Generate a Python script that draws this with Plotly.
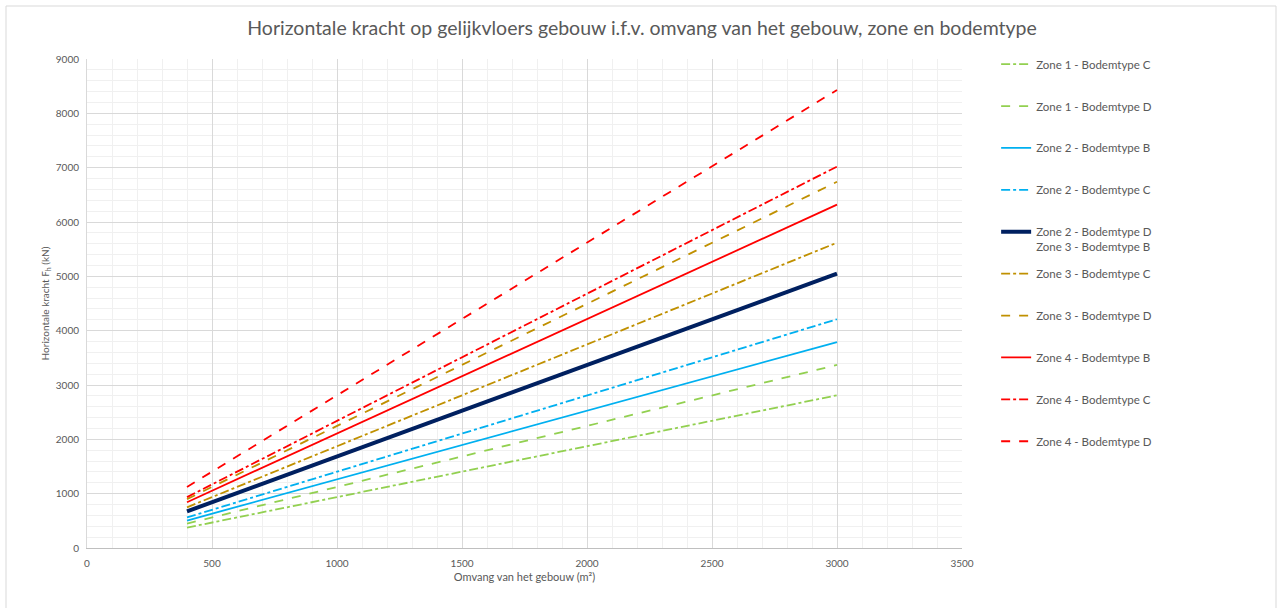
import plotly.graph_objects as go

# Building footprint (m²) at the start and end of each line
omvang = [400, 3000]

# Horizontal force Fh (kN) per zone / soil type
zone1_c = [375, 2810]
zone1_d = [450, 3370]
zone2_b = [506, 3790]
zone2_c = [562, 4210]
zone2_d = [674, 5050]
zone3_b = [674, 5050]
zone3_c = [749, 5620]
zone3_d = [899, 6740]
zone4_b = [843, 6320]
zone4_c = [936, 7020]
zone4_d = [1124, 8430]

GREEN = "#92d050"
CYAN = "#00b0f0"
NAVY = "#002060"
GOLD = "#c09000"
RED = "#ff0000"

# (legend text, values, colour, dash, width, shown in legend)
# Zone 3 B coincides with Zone 2 D: it shares that legend entry and has no visible line
series = [
    ("Zone 1 - Bodemtype C<br> ", zone1_c, GREEN, "dashdot", 1.8, True),
    ("Zone 1 - Bodemtype D<br> ", zone1_d, GREEN, "dash", 1.8, True),
    ("Zone 2 - Bodemtype B<br> ", zone2_b, CYAN, "solid", 1.8, True),
    ("Zone 2 - Bodemtype C<br> ", zone2_c, CYAN, "dashdot", 1.8, True),
    ("Zone 2 - Bodemtype D<br>Zone 3 - Bodemtype B", zone2_d, NAVY, "solid", 4, True),
    ("Zone 3 - Bodemtype B", zone3_b, "rgba(0,0,0,0)", "solid", 1.8, False),
    ("Zone 3 - Bodemtype C<br> ", zone3_c, GOLD, "dashdot", 1.8, True),
    ("Zone 3 - Bodemtype D<br> ", zone3_d, GOLD, "dash", 1.8, True),
    ("Zone 4 - Bodemtype B<br> ", zone4_b, RED, "solid", 1.8, True),
    ("Zone 4 - Bodemtype C<br> ", zone4_c, RED, "dashdot", 1.8, True),
    ("Zone 4 - Bodemtype D<br> ", zone4_d, RED, "dash", 1.8, True),
]

FONT = "Lato, 'Open Sans', sans-serif"
TXT = "#595959"

fig = go.Figure()
for i, (name, vals, color, dash, width, show) in enumerate(series):
    fig.add_trace(go.Scatter(
        x=omvang, y=vals, mode="lines", name=name,
        line=dict(color=color, dash=dash, width=width),
        legendgroup=f"g{i}", showlegend=show,
    ))

fig.update_layout(
    width=1279, height=608,
    margin=dict(l=87, r=317, t=59, b=60),
    paper_bgcolor="white", plot_bgcolor="white",
    font=dict(family=FONT, color=TXT, size=10),
    title=dict(
        text="Horizontale kracht op gelijkvloers gebouw i.f.v. omvang van het gebouw, zone en bodemtype",
        x=0.502, xref="container", xanchor="center", y=0.953, yanchor="middle",
        font=dict(size=19.5, color=TXT, family=FONT),
    ),
    legend=dict(
        x=1.039, xanchor="left", y=1.018, yanchor="top",
        font=dict(size=11.5, color=TXT, family=FONT),
        traceorder="grouped", tracegroupgap=9, valign="top",
        bgcolor="rgba(0,0,0,0)", maxheight=600,
    ),
    showlegend=True,
)

fig.update_xaxes(
    range=[0, 3500], dtick=500, tick0=0,
    showgrid=True, gridcolor="#d9d9d9", gridwidth=1,
    minor=dict(dtick=100, showgrid=True, gridcolor="#f0f0f0", gridwidth=1),
    showline=True, linecolor="#bfbfbf", linewidth=1,
    zeroline=False, ticks="", ticklabelstandoff=6,
    tickfont=dict(size=10, color=TXT),
    title=dict(text="Omvang van het gebouw (m²)", font=dict(size=11, color=TXT), standoff=5),
)
fig.update_yaxes(
    range=[0, 9000], dtick=1000, tick0=0,
    showgrid=True, gridcolor="#d9d9d9", gridwidth=1,
    minor=dict(dtick=200, showgrid=True, gridcolor="#f0f0f0", gridwidth=1),
    showline=True, linecolor="#d9d9d9", linewidth=1,
    zeroline=False, ticks="", ticklabelstandoff=5,
    tickfont=dict(size=10, color=TXT),
    title=dict(text="Horizontale kracht F<sub>h</sub> (kN)", font=dict(size=10, color=TXT), standoff=4),
)

# Chart border
fig.add_shape(
    type="rect", xref="paper", yref="paper",
    x0=(6 - 87) / 875, x1=(1276 - 87) / 875,
    y0=(548 - 640) / 489, y1=(548 - 6) / 489,
    line=dict(color="#d9d9d9", width=1), fillcolor="rgba(0,0,0,0)", layer="below",
)

fig.write_html("out.html")
